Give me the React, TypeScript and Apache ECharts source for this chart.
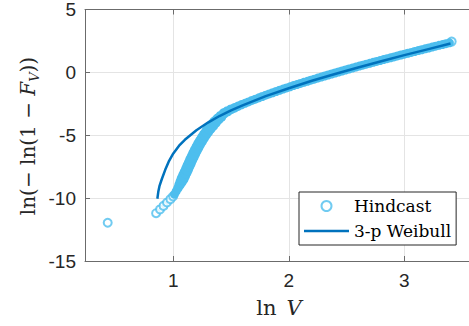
import React, { useEffect, useRef } from "react";
import * as echarts from "echarts";

// Axis ranges and ticks
const X_MIN = 0.2355;
const X_MAX = 3.56;
const xTicks = [1, 2, 3];
const Y_MIN = -15;
const Y_MAX = 5;
const Y_STEP = 5;

// Hindcast: sparse lower tail (drawn as open circles)
const hindcastTail: [number, number][] = [
  [0.432, -11.96],
  [0.851, -11.2],
  [0.885, -10.9],
  [0.915, -10.62],
  [0.945, -10.35],
  [0.975, -10.08],
  [0.998, -9.86],
  [3.41, 2.45],
];

// Hindcast: dense band (thousands of overlapping markers in the original)
const hindcastDense: [number, number][] = [
  [1.01, -9.7], [1.025, -9.45], [1.04, -9.2], [1.054, -8.95], [1.068, -8.7],
  [1.081, -8.45], [1.094, -8.2], [1.107, -7.95], [1.119, -7.7], [1.131, -7.45],
  [1.143, -7.2], [1.155, -6.95], [1.168, -6.7], [1.181, -6.45], [1.195, -6.2],
  [1.209, -5.95], [1.224, -5.7], [1.24, -5.45], [1.257, -5.2], [1.275, -4.95],
  [1.294, -4.7], [1.315, -4.45], [1.338, -4.2], [1.362, -3.95], [1.388, -3.7],
  [1.412, -3.5], [1.44, -3.25], [1.47, -3.09], [1.5, -2.94], [1.53, -2.82],
  [1.56, -2.69], [1.59, -2.57], [1.62, -2.46], [1.65, -2.35], [1.68, -2.23],
  [1.71, -2.13], [1.74, -2.02], [1.77, -1.92], [1.8, -1.81], [1.83, -1.71],
  [1.86, -1.62], [1.89, -1.52], [1.92, -1.42], [1.95, -1.33], [1.98, -1.24],
  [2.01, -1.15], [2.04, -1.05], [2.07, -0.97], [2.1, -0.88], [2.13, -0.79],
  [2.16, -0.71], [2.19, -0.62], [2.22, -0.54], [2.25, -0.45], [2.28, -0.37],
  [2.31, -0.29], [2.34, -0.21], [2.37, -0.13], [2.4, -0.05], [2.43, 0.03],
  [2.46, 0.11], [2.49, 0.19], [2.52, 0.27], [2.55, 0.34], [2.58, 0.42],
  [2.61, 0.5], [2.64, 0.57], [2.67, 0.65], [2.7, 0.72], [2.73, 0.8],
  [2.76, 0.87], [2.79, 0.94], [2.82, 1.02], [2.85, 1.09], [2.88, 1.16],
  [2.91, 1.23], [2.94, 1.31], [2.97, 1.38], [3.0, 1.45], [3.03, 1.52],
  [3.06, 1.59], [3.09, 1.66], [3.12, 1.73], [3.15, 1.8], [3.18, 1.87],
  [3.21, 1.94], [3.24, 2.01], [3.27, 2.08], [3.3, 2.15], [3.33, 2.21],
  [3.36, 2.28], [3.39, 2.35],
];

// 3-parameter Weibull fit line
const weibull: [number, number][] = [
  [0.862, -10.05], [0.87, -9.5], [0.88, -9.05], [0.9, -8.5], [0.93, -7.75],
  [0.96, -7.1], [1.0, -6.45], [1.05, -5.83], [1.1, -5.36], [1.2, -4.6],
  [1.3, -3.99], [1.4, -3.47], [1.5, -3.02], [1.6, -2.62], [1.8, -1.89],
  [2.0, -1.26], [2.2, -0.67], [2.4, -0.13], [2.6, 0.39], [2.8, 0.89],
  [3.0, 1.37], [3.2, 1.83], [3.4, 2.29],
];

const seriesNames = ["Hindcast", "3-p Weibull"];

const LIGHT = "#4DBEEE";
const DARK = "#0072BD";
const AXIS = "#6b6b6b";
const GRID = "#e4e4e4";
const LABEL = "#262626";
const SERIF = "DejaVu Serif";
const SANS = "Liberation Sans";

function bandSize(v: number[]): number {
  const y = v[1];
  if (y <= -9.3) return 9;
  if (y <= -8.5) return 9 + ((y + 9.3) / 0.8) * 3;
  if (y <= -4) return 12;
  if (y <= -2.5) return 12 - ((y + 4) / 1.5) * 3;
  return 9;
}

export default function App() {
  const ref = useRef<HTMLDivElement>(null);

  useEffect(() => {
    if (!ref.current) return;
    const chart = echarts.init(ref.current, null, { renderer: "svg" });
    const axisLineStyle = { color: AXIS, width: 1 };
    const option: any = {
      animation: false,
      backgroundColor: "#ffffff",
      grid: { left: 85, right: 0, top: 8, bottom: 65 },
      xAxis: [
        {
          type: "value",
          position: "bottom",
          min: X_MIN,
          max: X_MAX,
          axisLine: { show: true, onZero: false, lineStyle: axisLineStyle },
          axisTick: { show: true, inside: true, length: 5, customValues: xTicks, lineStyle: axisLineStyle },
          axisLabel: { customValues: xTicks, margin: 10, fontSize: 19, fontFamily: SANS, color: LABEL },
          splitLine: { show: true, lineStyle: { color: GRID, width: 1 } },
        },
        {
          type: "value",
          position: "top",
          min: X_MIN,
          max: X_MAX,
          axisLine: { show: true, onZero: false, lineStyle: axisLineStyle },
          axisTick: { show: true, inside: true, length: 5, customValues: xTicks, lineStyle: axisLineStyle },
          axisLabel: { show: false },
          splitLine: { show: false },
        },
      ],
      yAxis: {
        type: "value",
        min: Y_MIN,
        max: Y_MAX,
        interval: Y_STEP,
        axisLine: { show: true, onZero: false, lineStyle: axisLineStyle },
        axisTick: { show: true, inside: true, length: 5, lineStyle: axisLineStyle },
        axisLabel: { margin: 9, fontSize: 19, fontFamily: SANS, color: LABEL },
        splitLine: { show: true, lineStyle: { color: GRID, width: 1 } },
      },
      legend: {
        orient: "vertical",
        left: 299,
        top: 192,
        padding: [4, 5, 4, 5],
        itemGap: 5,
        itemWidth: 45,
        itemHeight: 10,
        backgroundColor: "#ffffff",
        borderColor: "#262626",
        borderWidth: 1,
        borderRadius: 0,
        textStyle: { fontFamily: SERIF, fontSize: 17, color: "#000000", lineHeight: 20 },
        data: [
          { name: seriesNames[0], icon: "emptyCircle", itemStyle: { borderWidth: 1 } },
          { name: seriesNames[1], icon: "path://M0,0 L45,0 L45,2.6 L0,2.6 Z", itemStyle: { color: DARK } },
        ],
      },
      series: [
        {
          name: seriesNames[0],
          type: "scatter",
          xAxisIndex: 0,
          data: hindcastTail,
          symbol: "emptyCircle",
          symbolSize: 8,
          itemStyle: { color: LIGHT, borderColor: LIGHT, borderWidth: 1 },
          z: 2,
        },
        {
          name: seriesNames[0],
          type: "scatter",
          xAxisIndex: 0,
          data: hindcastDense,
          symbol: "circle",
          symbolSize: bandSize,
          itemStyle: { color: LIGHT, opacity: 1 },
          z: 2,
        },
        {
          name: seriesNames[1],
          type: "line",
          xAxisIndex: 0,
          data: weibull,
          symbol: "none",
          showSymbol: false,
          smooth: false,
          lineStyle: { color: DARK, width: 2.5 },
          itemStyle: { color: DARK },
          z: 3,
        },
      ],
      graphic: [
        {
          type: "text",
          x: 28,
          y: 136,
          rotation: Math.PI / 2,
          style: {
            text: "{n|ln(− ln(1 − }{i|F}{s|V}{n|))}",
            align: "center",
            verticalAlign: "middle",
            fill: LABEL,
            rich: {
              n: { fontFamily: SERIF, fontSize: 20, lineHeight: 26, fill: LABEL },
              i: { fontFamily: SERIF, fontSize: 20, fontStyle: "italic", lineHeight: 26, fill: LABEL },
              s: { fontFamily: SERIF, fontSize: 13, fontStyle: "italic", lineHeight: 11, verticalAlign: "bottom", fill: LABEL },
            },
          },
        },
        {
          type: "text",
          x: 279,
          y: 308,
          style: {
            text: "{n|ln}{g| }{i|V}",
            align: "center",
            verticalAlign: "middle",
            fill: LABEL,
            rich: {
              n: { fontFamily: SERIF, fontSize: 21, fill: LABEL },
              g: { fontFamily: SERIF, fontSize: 21, width: 10, fill: LABEL },
              i: { fontFamily: SERIF, fontSize: 21, fontStyle: "italic", fill: LABEL },
            },
          },
        },
      ],
    };
    chart.setOption(option);
    return () => chart.dispose();
  }, []);

  return (
    <div
      ref={ref}
      style={{ position: "fixed", left: 0, top: 0, width: 469, height: 326, background: "#ffffff" }}
    />
  );
}
